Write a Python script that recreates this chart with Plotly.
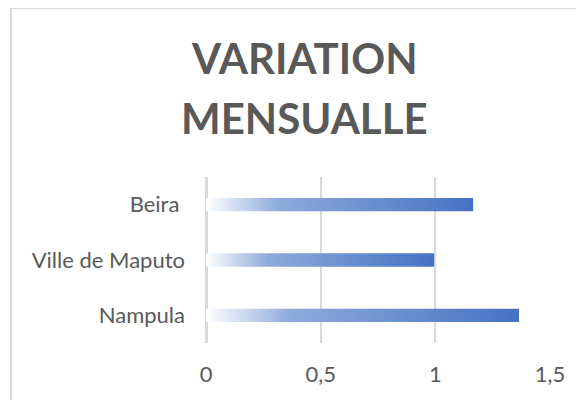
import plotly.graph_objects as go

categories = ["Nampula", "Ville de Maputo", "Beira\u00a0"]
values = [1.365, 0.995, 1.165]
title_lines = ["VARIATION", "MENSUALLE"]

# the page body adds an 8px margin; lay out in window pixels and shift
OFF = 8
W, H = 584 - OFF, 400 - OFF
L = 206 - OFF
T = 177 - OFF
R = W - (550 - OFF)
B = H - (343 - OFF)
pw, ph = W - L - R, H - T - B

def px_to_paper_x(px):
    return (px - OFF - L) / pw

def px_to_paper_y(py):
    return (H - B - (py - OFF)) / ph

half = 0.12
grad = dict(type="horizontal",
            colorscale=[[0, "#ffffff"], [0.27, "#8eaadb"], [1, "#4472c4"]])

fig = go.Figure()
for i, (cat, v) in enumerate(zip(categories, values)):
    fig.add_trace(go.Scatter(
        x=[0, v, v, 0, 0],
        y=[i - half, i - half, i + half, i + half, i - half],
        mode="lines", fill="toself", line=dict(width=0),
        fillgradient=grad, fillcolor="#4472c4",
        hoverinfo="skip", showlegend=False, name=cat))

font_family = "Lato, 'Open Sans', sans-serif"
fig.update_layout(
    width=W, height=H,
    margin=dict(l=L, r=R, t=T, b=B),
    paper_bgcolor="white", plot_bgcolor="white",
    separators=", ",
    font=dict(family=font_family, color="#595959", size=22),
    xaxis=dict(range=[0, 1.5001], dtick=0.5, tick0=0,
               showgrid=True, gridcolor="#d9d9d9", gridwidth=1.5,
               zeroline=True, zerolinecolor="#d9d9d9", zerolinewidth=3,
               showline=False, ticks="", ticklabelstandoff=16,
               tickfont=dict(size=22, color="#595959")),
    yaxis=dict(range=[-0.5, 2.5], tickvals=list(range(len(categories))),
               ticktext=categories, showgrid=False, zeroline=False,
               showline=False, ticks="", ticklabelstandoff=20,
               tickfont=dict(size=22, color="#595959")),
    showlegend=False,
)

ys = [58, 118]
for txt, py in zip(title_lines, ys):
    fig.add_annotation(text="<b>%s</b>" % txt, xref="paper", yref="paper",
                       x=px_to_paper_x(304), y=px_to_paper_y(py),
                       xanchor="center", yanchor="middle", showarrow=False,
                       font=dict(size=42, color="#595959", family=font_family))

fig.add_shape(type="line", xref="paper", yref="paper",
              x0=px_to_paper_x(11), x1=px_to_paper_x(11),
              y0=px_to_paper_y(8), y1=px_to_paper_y(400),
              line=dict(color="#d9d9d9", width=2))
fig.add_shape(type="line", xref="paper", yref="paper",
              x0=px_to_paper_x(11), x1=px_to_paper_x(584),
              y0=px_to_paper_y(8.5), y1=px_to_paper_y(8.5),
              line=dict(color="#d9d9d9", width=1))

fig.write_html("out.html")
